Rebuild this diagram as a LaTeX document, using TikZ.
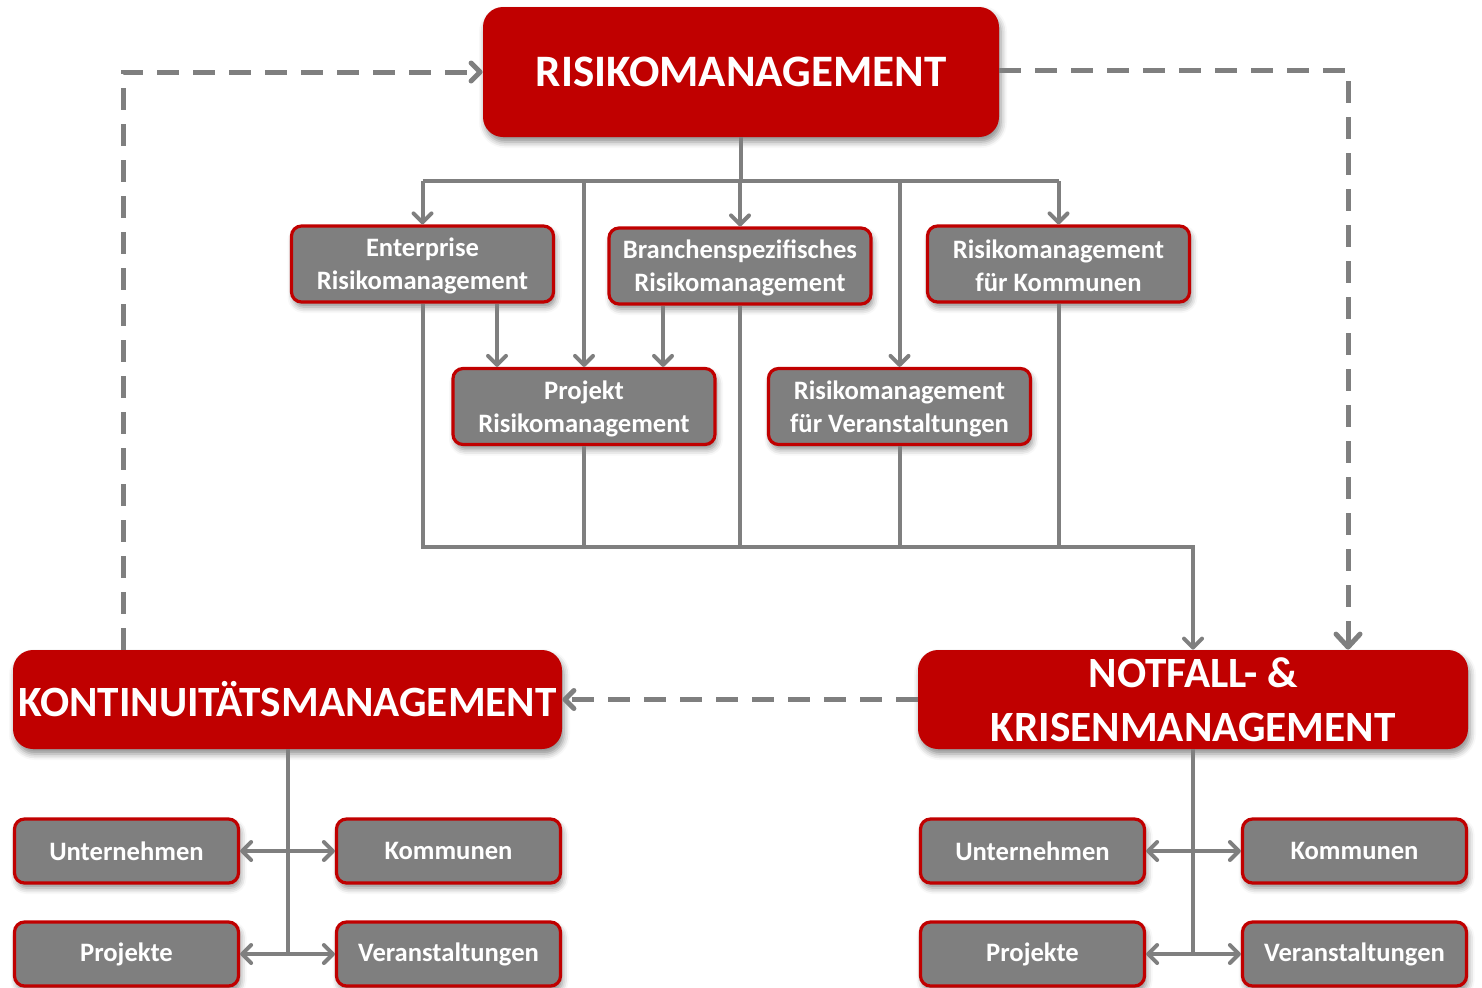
\documentclass[tikz,border=0pt]{standalone}
\usepackage{fontspec}
\setmainfont{Carlito}
\usetikzlibrary{arrows.meta,shadows.blur}
\definecolor{boxred}{HTML}{C00000}
\definecolor{boxgray}{HTML}{7F7F7F}
\definecolor{linegray}{HTML}{7F7F7F}
\tikzset{
  shd/.style={blur shadow={shadow xshift=1pt,shadow yshift=-2.5pt,shadow blur radius=3pt,shadow opacity=45}},
  redbox/.style={shd,fill=boxred,rounded corners=10pt,text=white,align=center,
    font=\bfseries\fontsize{22.5}{26}\selectfont,inner sep=0pt},
  redsmall/.style={redbox,font=\bfseries\fontsize{21.6}{26}\selectfont},
  graybox/.style={shd,fill=boxgray,draw=boxred,line width=1.6pt,rounded corners=5pt,
    text=white,align=center,font=\bfseries\fontsize{13.3}{16.5}\selectfont,
    minimum width=131pt,minimum height=38pt,inner sep=0pt},
  smallbox/.style={graybox,minimum width=112pt,minimum height=32pt},
  conn/.style={draw=linegray,line width=2pt},
  dsh/.style={draw=linegray,line width=2.5pt,dash pattern=on 11pt off 7pt},
  tipS/.tip={Straight Barb[length=4.5pt,width=9pt,round]},
  tipL/.tip={Straight Barb[length=6.5pt,width=12pt,round]},
}
\begin{document}
\begin{tikzpicture}[x=0.5pt,y=-0.5pt]
\useasboundingbox (0,0) rectangle (1482,987);

% main levels
\node[redbox,minimum width=258pt,minimum height=65pt] (risk) at (741,72) {RISIKOMANAGEMENT};
\node[redsmall,minimum width=274.5pt,minimum height=49.5pt] (kont) at (287.5,699.5) {KONTINUITÄTSMANAGEMENT};
\node[redsmall,minimum width=275pt,minimum height=49.5pt] (notf) at (1193,699.5) {NOTFALL- \&\\[1pt]KRISENMANAGEMENT};

% risk management variants
\node[graybox] (ent) at (422.5,264) {\strut Enterprise\\Risikomanagement};
\node[graybox] (bra) at (740,266) {\strut Branchenspezifisches\\Risikomanagement};
\node[graybox] (kom) at (1058.5,264) {\strut Risikomanagement\\für Kommunen};
\node[graybox] (proj) at (584,406.5) {\strut Projekt\\Risikomanagement};
\node[graybox] (ver) at (899.5,406.5) {\strut Risikomanagement\\für Veranstaltungen};

% application areas
\node[smallbox] (lu) at (126.5,851) {Unternehmen};
\node[smallbox] (lk) at (448.5,851) {Kommunen};
\node[smallbox] (lp) at (126.5,954) {Projekte};
\node[smallbox] (lv) at (448.5,954) {Veranstaltungen};
\node[smallbox] (ru) at (1032.5,851) {Unternehmen};
\node[smallbox] (rk) at (1354.5,851) {Kommunen};
\node[smallbox] (rp) at (1032.5,954) {Projekte};
\node[smallbox] (rv) at (1354.5,954) {Veranstaltungen};

% helper coordinates
\coordinate (bar) at (0,181);
\coordinate (col) at (0,547);
\coordinate (ep) at (497,0);
\coordinate (bp) at (663,0);
\coordinate (dl) at (123,72);
\coordinate (dr) at (1348,70);

% distribution from the top box
\draw[conn] (risk.south) -- (risk.south |- bar);
\draw[conn] (ent.north |- bar) -- (kom.north |- bar);
\draw[conn,-tipS] (ent.north |- bar) -- (ent.north);
\draw[conn,-tipS] (bra.north |- bar) -- (bra.north);
\draw[conn,-tipS] (kom.north |- bar) -- (kom.north);
\draw[conn,-tipS] (proj.north |- bar) -- (proj.north);
\draw[conn,-tipS] (ver.north |- bar) -- (ver.north);
\draw[conn,-tipS] (ent.south -| ep) -- (proj.north -| ep);
\draw[conn,-tipS] (bra.south -| bp) -- (proj.north -| bp);

% collection towards emergency management
\draw[conn,-tipS] (ent.south) -- (ent.south |- col) -- (col -| notf.north) -- (notf.north);
\draw[conn] (proj.south) -- (proj.south |- col);
\draw[conn] (bra.south) -- (bra.south |- col);
\draw[conn] (ver.south) -- (ver.south |- col);
\draw[conn] (kom.south) -- (kom.south |- col);

% dashed cycle
\draw[dsh,-tipS] (kont.north -| dl) -- (dl) -- (risk.west);
\draw[dsh,-tipL] (risk.east |- dr) -- (dr) -- (notf.north -| dr);
\draw[dsh,-tipS] (notf.west) -- (kont.east);

% branches below the two lower boxes
\draw[conn] (kont.south) -- (kont.south |- lp);
\draw[conn,tipS-tipS] (lu.east) -- (lk.west);
\draw[conn,tipS-tipS] (lp.east) -- (lv.west);
\draw[conn] (notf.south) -- (notf.south |- rp);
\draw[conn,tipS-tipS] (ru.east) -- (rk.west);
\draw[conn,tipS-tipS] (rp.east) -- (rv.west);
\end{tikzpicture}
\end{document}
